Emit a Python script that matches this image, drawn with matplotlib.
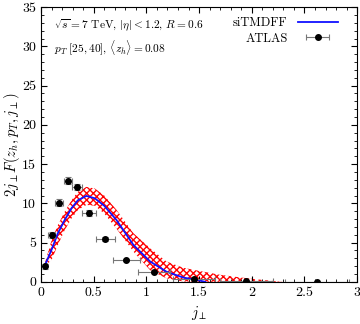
import matplotlib
matplotlib.use("Agg")
import matplotlib.pyplot as plt
from matplotlib.ticker import MultipleLocator
from matplotlib.legend_handler import HandlerErrorbar

plt.rcParams['font.family'] = ['cmr10', 'DejaVu Serif']
plt.rcParams['mathtext.fontset'] = 'cm'
plt.rcParams['axes.unicode_minus'] = False
plt.rcParams['hatch.linewidth'] = 1.0

# siTMDFF central curve
x_curve = [0.03, 0.1, 0.16, 0.225, 0.29, 0.35, 0.43, 0.51, 0.6, 0.715, 0.877,
           1.035, 1.19, 1.35, 1.48, 1.56]
y_curve = [1.9, 4.1, 6.2, 7.9, 9.4, 10.4, 10.95, 10.65, 9.7, 7.9, 4.7,
           2.6, 1.3, 0.55, 0.25, 0.0]

# uncertainty band
x_band = [0.03, 0.1, 0.16, 0.225, 0.29, 0.35, 0.43, 0.51, 0.6, 0.715, 0.877,
          1.035, 1.19, 1.35, 1.5, 1.7, 1.9, 2.1, 2.3]
band_up = [2.1, 5.3, 7.25, 8.95, 10.4, 11.5, 12.1, 11.9, 11.0, 9.2, 6.2,
           4.3, 2.6, 1.8, 1.4, 0.9, 0.55, 0.25, 0.0]
band_lo = [1.9, 2.8, 4.7, 6.6, 8.1, 9.15, 9.8, 9.7, 8.7, 6.8, 3.85,
           1.5, 0.45, 0.05, 0.02, 0.0, 0.0, 0.0, 0.0]

# ATLAS data
x_atlas = [0.04, 0.10, 0.17, 0.255, 0.34, 0.455, 0.61, 0.81, 1.07, 1.45, 1.95, 2.62]
xerr_atlas = [0.015, 0.03, 0.04, 0.035, 0.045, 0.065, 0.09, 0.125, 0.15, 0.2, 0.25, 0.3]
y_atlas = [2.0, 6.0, 10.1, 12.9, 12.1, 8.8, 5.5, 2.8, 1.25, 0.4, 0.05, 0.01]
yerr_atlas = [0.3, 0.35, 0.45, 0.45, 0.4, 0.35, 0.25, 0.15, 0.1, 0.05, 0.02, 0.01]

fig = plt.figure(figsize=(3.6, 3.24), dpi=100)
ax = fig.add_axes([0.114, 0.13, 0.878, 0.848])

ax.fill_between(x_band, band_lo, band_up, facecolor='none', edgecolor='red',
                hatch='xxxxx', linewidth=0)
ax.plot(x_curve, y_curve, color='#1010ff', lw=1.3, label='siTMDFF')
eb = ax.errorbar(x_atlas, y_atlas, xerr=xerr_atlas, yerr=yerr_atlas, fmt='o',
                 color='black', ms=4, ecolor='#777777', elinewidth=0.8,
                 capsize=2, capthick=0.8, label='ATLAS')

ax.set_xlim(0, 3)
ax.set_ylim(0, 35)
ax.xaxis.set_major_locator(MultipleLocator(0.5))
ax.xaxis.set_minor_locator(MultipleLocator(0.1))
ax.yaxis.set_major_locator(MultipleLocator(5))
ax.yaxis.set_minor_locator(MultipleLocator(1))
ax.tick_params(which='both', direction='in', top=True, right=True, labelsize=10)
ax.tick_params(which='major', length=4)
ax.tick_params(which='minor', length=2)
ax.xaxis.set_major_formatter(plt.FuncFormatter(lambda v, p: f"{v:g}"))

ax.set_xlabel(r'$j_\perp$', fontsize=10.5)
ax.set_ylabel(r'$2j_\perp F(z_h, p_T, j_\perp)$', fontsize=10.5, labelpad=0)

ax.text(0.04, 0.965, r'$\sqrt{s}=7$ TeV, $|\eta|<1.2$, $R=0.6$',
        transform=ax.transAxes, fontsize=8.2, va='top')
ax.text(0.04, 0.885, r'$p_T\ [25, 40]$, $\langle z_h\rangle=0.08$',
        transform=ax.transAxes, fontsize=8.2, va='top')

ax.legend(loc='upper right', frameon=False, markerfirst=False, fontsize=9,
          handlelength=3.2, borderaxespad=0.4, labelspacing=0.25,
          bbox_to_anchor=(0.97, 1.0),
          handler_map={eb: HandlerErrorbar(xerr_size=0.9, yerr_size=0.0)})

fig.savefig('out.png', dpi=100)
